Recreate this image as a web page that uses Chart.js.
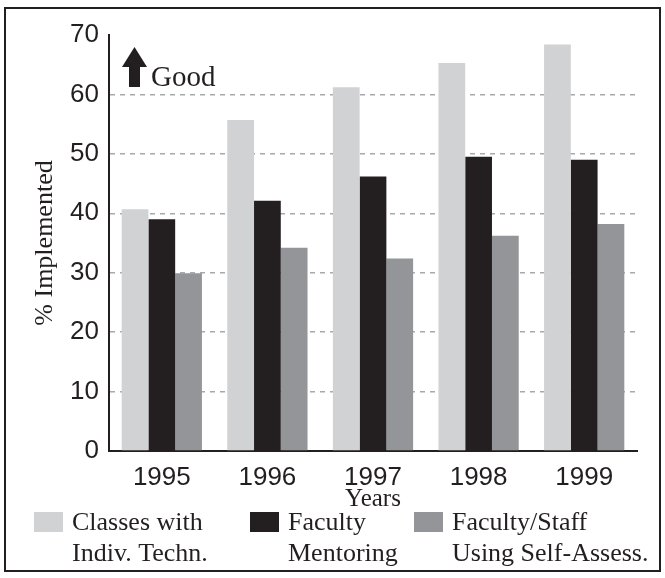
<!DOCTYPE html>
<html>
<head>
<meta charset="utf-8">
<script src="https://cdn.jsdelivr.net/npm/chart.js@4.4.0/dist/chart.umd.min.js"></script>
<style>
  html, body { margin: 0; padding: 0; background: #fff; }
  canvas { display: block; }
</style>
</head>
<body>
<canvas id="impl-chart" width="665" height="578"></canvas>
<script>
const years = ['1995', '1996', '1997', '1998', '1999'];
const classesIndivTechn = [40.7, 55.7, 61.2, 65.3, 68.4];
const facultyMentoring = [39.0, 42.1, 46.2, 49.5, 49.0];
const selfAssessment = [29.9, 34.2, 32.4, 36.2, 38.2];
const seriesLabels = [
    ['Classes with', 'Indiv. Techn.'],
    ['Faculty', 'Mentoring'],
    ['Faculty/Staff', 'Using Self-Assess.']
];
const yTicks = [0, 10, 20, 30, 40, 50, 60, 70];

const INK = '#231f20';
const SANS = '"Liberation Sans", Arial, sans-serif';
const SERIF = '"Liberation Serif", "Times New Roman", serif';

// frame, "Good" arrow and the two-line legend
const decorations = {
    id: 'decorations',
    afterDraw(chart) {
        const ctx = chart.ctx;
        const area = chart.chartArea;
        ctx.save();

        ctx.strokeStyle = INK;
        ctx.lineWidth = 2;
        ctx.strokeRect(5, 8, 655, 563);

        // arrow pointing up + label
        const ax = area.left + 13;
        const ay = area.top + 12;
        ctx.fillStyle = INK;
        ctx.beginPath();
        ctx.moveTo(ax, ay + 20);
        ctx.lineTo(ax + 12.5, ay);
        ctx.lineTo(ax + 25, ay + 20);
        ctx.closePath();
        ctx.fill();
        ctx.fillRect(ax + 7, ay + 19, 11, 21);
        ctx.font = '29px ' + SERIF;
        ctx.textBaseline = 'alphabetic';
        ctx.textAlign = 'left';
        ctx.fillText('Good', ax + 29, ay + 39);

        // legend
        const cols = [34, 250, 414];
        ctx.font = '26px ' + SERIF;
        ctx.textBaseline = 'middle';
        chart.data.datasets.forEach((ds, i) => {
            const x = cols[i];
            ctx.fillStyle = ds.backgroundColor;
            ctx.fillRect(x, 512, 29, 20);
            ctx.fillStyle = INK;
            ds.label.forEach((line, j) => {
                ctx.fillText(line, x + 38, 523 + j * 31);
            });
        });
        ctx.restore();
    }
};

new Chart(document.getElementById('impl-chart'), {
    type: 'bar',
    data: {
        labels: years,
        datasets: [
            { label: seriesLabels[0], data: classesIndivTechn, backgroundColor: '#d1d2d4' },
            { label: seriesLabels[1], data: facultyMentoring, backgroundColor: INK },
            { label: seriesLabels[2], data: selfAssessment, backgroundColor: '#939598' }
        ]
    },
    options: {
        responsive: false,
        animation: false,
        devicePixelRatio: 1,
        layout: { padding: { left: 10, right: 28, top: 35, bottom: 64 } },
        datasets: { bar: { categoryPercentage: 0.76, barPercentage: 1 } },
        plugins: {
            legend: { display: false },
            tooltip: { enabled: false }
        },
        scales: {
            x: {
                grid: { display: false, drawTicks: false },
                border: { color: INK, width: 2 },
                ticks: { color: INK, font: { family: SANS, size: 26 }, padding: 11 },
                title: {
                    display: true, text: 'Years', color: INK,
                    font: { family: SERIF, size: 25 }, padding: 0
                },
                afterFit(scale) { scale.height = 63; }
            },
            y: {
                min: 0,
                max: 70,
                afterBuildTicks(scale) { scale.ticks = yTicks.map(v => ({ value: v })); },
                grid: {
                    drawTicks: false,
                    lineWidth: 1.5,
                    color: c => (c.tick && c.tick.value > 0 && c.tick.value < 70) ? '#a7a9ac' : 'rgba(0,0,0,0)'
                },
                border: { color: INK, width: 2, dash: [5, 5] },
                ticks: { color: INK, font: { family: SANS, size: 26 }, padding: 10 },
                title: {
                    display: true, text: '% Implemented', color: INK,
                    font: { family: SERIF, size: 26 }, padding: { top: 20, bottom: 0 }
                },
                afterFit(scale) { scale.width = 99; }
            }
        }
    },
    plugins: [decorations]
});
</script>
</body>
</html>
